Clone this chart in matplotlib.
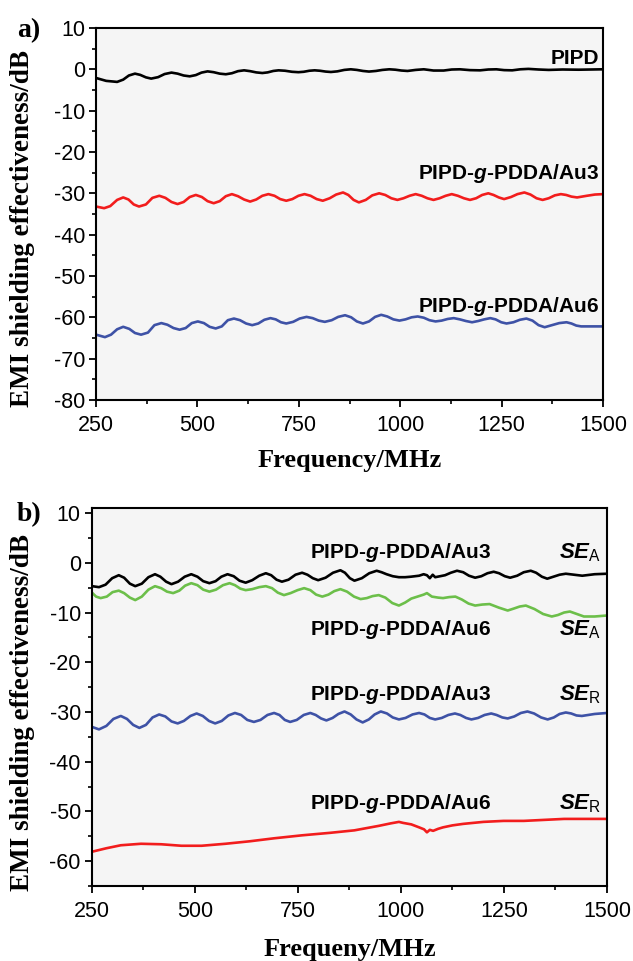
import numpy as np
import matplotlib
matplotlib.use('Agg')
import matplotlib.pyplot as plt
from matplotlib.ticker import MultipleLocator, AutoMinorLocator

plt.rcParams['font.family'] = ['Liberation Sans', 'DejaVu Sans']
plt.rcParams['axes.unicode_minus'] = False
plt.rcParams['mathtext.fontset'] = 'custom'
plt.rcParams['mathtext.it'] = 'Liberation Sans:italic:bold'
plt.rcParams['mathtext.rm'] = 'Liberation Sans'
plt.rcParams['mathtext.bf'] = 'Liberation Sans:bold'

# ---- panel a data ----
pipd_f = [250, 275, 302, 317, 331, 346, 359, 373, 386, 403, 419, 436, 451, 466, 481, 496, 510, 525, 540,
          555, 570, 585, 600, 615, 630, 645, 660, 673, 687, 700, 716, 733, 749, 762, 776, 789, 802, 816,
          829, 845, 862, 878, 893, 908, 923, 940, 956, 973, 988, 1003, 1018, 1038, 1058, 1082, 1107, 1127,
          1147, 1172, 1197, 1217, 1237, 1256, 1276, 1296, 1316, 1341, 1366, 1400, 1440, 1470, 1500]
pipd_v = [-2.1, -2.8, -3.05, -2.5, -1.5, -1.05, -1.35, -1.95, -2.25, -1.9, -1.15, -0.8, -1.05, -1.5, -1.7,
          -1.4, -0.8, -0.5, -0.7, -1.05, -1.2, -0.95, -0.45, -0.25, -0.45, -0.75, -0.9, -0.75, -0.4, -0.25,
          -0.35, -0.6, -0.7, -0.6, -0.35, -0.25, -0.35, -0.55, -0.65, -0.5, -0.15, 0.0, -0.15, -0.4, -0.55,
          -0.4, -0.15, 0.0, -0.1, -0.3, -0.4, -0.15, 0.0, -0.3, -0.3, -0.05, 0.0, -0.2, -0.25, -0.05, 0.0,
          -0.2, -0.25, 0.0, 0.1, -0.05, -0.15, -0.05, -0.1, -0.05, 0.0]

au3_f = [250, 270, 285, 302, 317, 330, 343, 356, 373, 389, 406, 421, 436, 451, 466, 481, 496, 511, 525,
         540, 555, 570, 585, 600, 615, 630, 645, 660, 675, 690, 704, 719, 734, 749, 764, 779, 794, 809,
         826, 842, 859, 872, 885, 898, 915, 931, 948, 963, 978, 993, 1008, 1023, 1038, 1053, 1067, 1082,
         1097, 1112, 1127, 1142, 1157, 1172, 1187, 1202, 1217, 1230, 1243, 1256, 1273, 1289, 1306, 1321,
         1336, 1351, 1366, 1381, 1396, 1409, 1422, 1436, 1460, 1480, 1500]
au3_v = [-33.2, -33.6, -33.1, -31.6, -31.0, -31.5, -32.7, -33.2, -32.7, -31.1, -30.6, -31.1, -32.1, -32.6,
         -32.1, -30.9, -30.4, -30.9, -31.9, -32.4, -31.9, -30.7, -30.2, -30.7, -31.5, -32.0, -31.5, -30.6,
         -30.2, -30.6, -31.4, -31.8, -31.4, -30.6, -30.2, -30.6, -31.4, -31.8, -31.2, -30.3, -29.8, -30.4,
         -31.6, -32.2, -31.6, -30.5, -30.0, -30.4, -31.2, -31.6, -31.2, -30.6, -30.2, -30.6, -31.2, -31.6,
         -31.2, -30.6, -30.2, -30.6, -31.2, -31.6, -31.2, -30.4, -30.0, -30.4, -31.0, -31.4, -30.9, -30.2,
         -29.8, -30.3, -31.2, -31.6, -31.2, -30.5, -30.2, -30.4, -30.8, -31.0, -30.6, -30.3, -30.2]

au6_f = [250, 272, 287, 302, 317, 332, 346, 361, 378, 394, 411, 426, 441, 456, 471, 486, 501, 516, 530,
         545, 560, 575, 590, 605, 620, 635, 650, 665, 680, 693, 706, 719, 736, 752, 769, 784, 799, 814,
         831, 847, 864, 879, 893, 908, 923, 938, 953, 968, 983, 998, 1013, 1028, 1043, 1058, 1072, 1087,
         1102, 1117, 1132, 1147, 1162, 1177, 1192, 1207, 1222, 1235, 1249, 1262, 1279, 1295, 1311, 1326,
         1341, 1356, 1374, 1392, 1410, 1422, 1434, 1446, 1470, 1500]
au6_v = [-64.2, -64.8, -64.2, -62.9, -62.3, -62.8, -63.8, -64.2, -63.7, -61.9, -61.4, -61.8, -62.6, -63.0,
         -62.6, -61.4, -61.0, -61.4, -62.3, -62.7, -62.2, -60.7, -60.3, -60.7, -61.5, -61.9, -61.5, -60.6,
         -60.2, -60.5, -61.2, -61.5, -61.1, -60.3, -59.9, -60.2, -60.8, -61.1, -60.7, -59.9, -59.5, -60.0,
         -61.0, -61.5, -61.0, -59.9, -59.4, -59.8, -60.5, -60.8, -60.5, -60.0, -59.8, -60.1, -60.7, -61.0,
         -60.8, -60.4, -60.2, -60.5, -60.9, -61.2, -60.9, -60.5, -60.2, -60.5, -61.2, -61.5, -61.2, -60.6,
         -60.3, -60.8, -61.9, -62.4, -61.9, -61.4, -61.2, -61.5, -62.0, -62.2, -62.2, -62.2]

# ---- panel b data ----
sea3_f = [250, 267, 283, 299, 315, 328, 342, 355, 371, 387, 403, 416, 430, 443, 459, 475, 491, 506, 520,
          535, 550, 564, 579, 594, 608, 623, 639, 656, 672, 685, 698, 711, 727, 744, 760, 773, 786, 799,
          817, 835, 853, 864, 876, 887, 905, 923, 941, 953, 965, 980, 995, 1010, 1024, 1044, 1055, 1063,
          1070, 1077, 1083, 1095, 1107, 1121, 1136, 1151, 1165, 1180, 1195, 1210, 1225, 1238, 1252, 1265,
          1282, 1298, 1315, 1328, 1342, 1355, 1370, 1385, 1400, 1420, 1440, 1470, 1500]
sea3_v = [-4.7, -4.9, -4.4, -3.1, -2.5, -3.0, -4.2, -4.7, -4.2, -2.9, -2.3, -2.8, -3.8, -4.3, -3.8, -2.8,
          -2.3, -2.8, -3.7, -4.1, -3.7, -2.8, -2.3, -2.7, -3.6, -4.0, -3.5, -2.6, -2.1, -2.5, -3.4, -3.8,
          -3.4, -2.4, -2.0, -2.4, -3.1, -3.5, -3.0, -2.0, -1.5, -2.0, -3.1, -3.6, -3.1, -2.1, -1.6, -1.9,
          -2.3, -2.7, -2.9, -2.9, -2.8, -2.6, -2.3, -2.5, -3.1, -2.4, -2.9, -2.7, -2.5, -2.0, -1.6, -1.9,
          -2.6, -3.0, -2.7, -2.1, -1.8, -2.1, -2.7, -3.0, -2.6, -1.9, -1.6, -2.0, -2.8, -3.2, -2.8, -2.4,
          -2.2, -2.4, -2.6, -2.3, -2.2]

sea6_f = [250, 260, 271, 286, 300, 315, 328, 342, 355, 371, 387, 403, 418, 432, 447, 462, 476, 491, 506,
          520, 535, 551, 568, 584, 597, 610, 623, 639, 656, 672, 687, 701, 716, 732, 749, 765, 780, 794,
          809, 824, 838, 853, 869, 886, 902, 917, 931, 946, 962, 979, 995, 1010, 1025, 1040, 1055, 1063,
          1075, 1090, 1102, 1117, 1132, 1148, 1164, 1180, 1197, 1215, 1237, 1259, 1274, 1288, 1303, 1324,
          1345, 1366, 1381, 1396, 1410, 1427, 1444, 1470, 1500]
sea6_v = [-6.0, -6.8, -7.1, -6.8, -5.9, -5.6, -6.1, -7.0, -7.5, -6.8, -5.4, -4.7, -5.1, -5.8, -6.1, -5.6,
          -4.6, -4.1, -4.5, -5.4, -5.8, -5.4, -4.5, -4.1, -4.5, -5.2, -5.5, -5.3, -4.9, -4.7, -5.1, -6.0,
          -6.5, -6.1, -5.5, -5.1, -5.5, -6.4, -6.8, -6.4, -5.7, -5.3, -5.8, -6.8, -7.3, -7.1, -6.7, -6.5,
          -7.0, -8.1, -8.6, -8.0, -7.2, -6.8, -6.4, -6.1, -6.8, -7.0, -7.1, -6.9, -6.8, -7.4, -8.2, -8.6,
          -8.4, -8.3, -9.0, -9.6, -9.2, -8.8, -8.6, -9.3, -10.3, -10.8, -10.5, -10.0, -9.8, -10.3, -10.8,
          -10.8, -10.6]

ser3_f = [250, 267, 285, 302, 320, 335, 350, 365, 381, 397, 413, 428, 443, 458, 473, 489, 504, 519, 534,
          549, 565, 581, 597, 612, 627, 643, 659, 676, 692, 705, 718, 731, 747, 764, 780, 793, 806, 819,
          834, 848, 863, 878, 892, 907, 922, 936, 951, 966, 980, 995, 1011, 1028, 1044, 1057, 1070, 1083,
          1099, 1115, 1131, 1144, 1158, 1171, 1187, 1203, 1219, 1232, 1246, 1259, 1275, 1291, 1307, 1323,
          1340, 1356, 1371, 1385, 1400, 1413, 1426, 1439, 1470, 1500]
ser3_v = [-33.0, -33.5, -32.8, -31.4, -30.8, -31.4, -32.6, -33.2, -32.6, -31.1, -30.5, -30.9, -31.9, -32.3,
          -31.8, -30.8, -30.3, -30.8, -31.8, -32.3, -31.8, -30.7, -30.2, -30.6, -31.6, -32.0, -31.6, -30.6,
          -30.2, -30.6, -31.6, -32.0, -31.6, -30.6, -30.2, -30.6, -31.3, -31.7, -31.2, -30.4, -29.9, -30.5,
          -31.5, -32.1, -31.5, -30.5, -29.9, -30.3, -31.1, -31.5, -31.2, -30.5, -30.2, -30.5, -31.2, -31.5,
          -31.2, -30.6, -30.3, -30.6, -31.2, -31.5, -31.2, -30.6, -30.3, -30.6, -31.1, -31.3, -30.9, -30.2,
          -29.9, -30.3, -31.1, -31.5, -31.1, -30.4, -30.1, -30.3, -30.7, -30.8, -30.4, -30.2]

ser6_f = [250, 285, 320, 369, 418, 467, 516, 574, 633, 692, 760, 828, 887, 946, 975, 995, 1005, 1025,
          1044, 1056, 1063, 1070, 1078, 1090, 1102, 1125, 1151, 1200, 1249, 1298, 1347, 1396, 1444, 1500]
ser6_v = [-58.1, -57.4, -56.8, -56.5, -56.6, -56.9, -56.9, -56.5, -56.0, -55.4, -54.8, -54.3, -53.8, -52.9,
          -52.4, -52.1, -52.3, -52.6, -53.2, -53.6, -54.2, -53.7, -53.9, -53.5, -53.2, -52.8, -52.5, -52.1,
          -51.9, -51.9, -51.7, -51.5, -51.5, -51.5]

xticks = [250, 500, 750, 1000, 1250, 1500]

fig = plt.figure(figsize=(6.33, 9.61), dpi=100)
ax1 = fig.add_axes([0.1517, 0.5838, 0.801, 0.3871])
ax2 = fig.add_axes([0.1453, 0.078, 0.8136, 0.3933])

serif = 'Liberation Serif'
lw = 1.9


def style(ax, ylo, yhi, xlabel, lpad):
    ax.set_facecolor('#f5f5f5')
    ax.set_xlim(250, 1500)
    ax.set_ylim(ylo, yhi)
    ax.set_xticks(xticks)
    ax.yaxis.set_major_locator(MultipleLocator(10))
    ax.xaxis.set_minor_locator(AutoMinorLocator(2))
    ax.yaxis.set_minor_locator(AutoMinorLocator(2))
    ax.tick_params(which='major', direction='out', length=5, width=1.3, labelsize=15.5, pad=3)
    ax.tick_params(axis='x', which='major', pad=6)
    ax.tick_params(which='minor', direction='out', length=3, width=1.2)
    for s in ax.spines.values():
        s.set_linewidth(1.5)
    ax.set_xlabel(xlabel, family=serif, fontweight='bold', fontsize=19, labelpad=lpad)
    ax.set_ylabel('EMI shielding effectiveness/dB', family=serif, fontweight='bold', fontsize=19.5)


# panel a
ax1.plot(pipd_f, pipd_v, color='black', lw=lw)
ax1.plot(au3_f, au3_v, color='#f21d1d', lw=lw)
ax1.plot(au6_f, au6_v, color='#3e52a6', lw=lw)
style(ax1, -80, 10, 'Frequency/MHz', 9)
ax1.text(1490, 1.3, 'PIPD', ha='right', va='baseline', fontsize=15, fontweight='bold')
ax1.text(1490, -26.6, 'PIPD-$g$-PDDA/Au3', ha='right', va='baseline', fontsize=15, fontweight='bold')
ax1.text(1490, -58.6, 'PIPD-$g$-PDDA/Au6', ha='right', va='baseline', fontsize=15, fontweight='bold')
ax1.yaxis.set_label_coords(-0.12, 0.46)

# panel b
ax2.plot(sea3_f, sea3_v, color='black', lw=lw)
ax2.plot(sea6_f, sea6_v, color='#6cbf4a', lw=lw)
ax2.plot(ser3_f, ser3_v, color='#3e52a6', lw=lw)
ax2.plot(ser6_f, ser6_v, color='#f21d1d', lw=lw)
style(ax2, -65, 11, 'Frequeny/MHz', 11)
labels_b = [('PIPD-$g$-PDDA/Au3', r'$SE_{\mathrm{A}}$', 0.9),
            ('PIPD-$g$-PDDA/Au6', r'$SE_{\mathrm{A}}$', -14.6),
            ('PIPD-$g$-PDDA/Au3', r'$SE_{\mathrm{R}}$', -27.6),
            ('PIPD-$g$-PDDA/Au6', r'$SE_{\mathrm{R}}$', -49.5)]
for name, se, yv in labels_b:
    ax2.text(1000, yv, name, ha='center', va='baseline', fontsize=15, fontweight='bold')
    ax2.text(1485, yv, se, ha='right', va='baseline', fontsize=16)
ax2.yaxis.set_label_coords(-0.11, 0.46)

fig.text(0.027, 1 - 37 / 961, 'a)', family=serif, fontweight='bold', fontsize=20, va='baseline')
fig.text(0.027, 1 - 521 / 961, 'b)', family=serif, fontweight='bold', fontsize=20, va='baseline')

fig.savefig('out.png', dpi=100)
